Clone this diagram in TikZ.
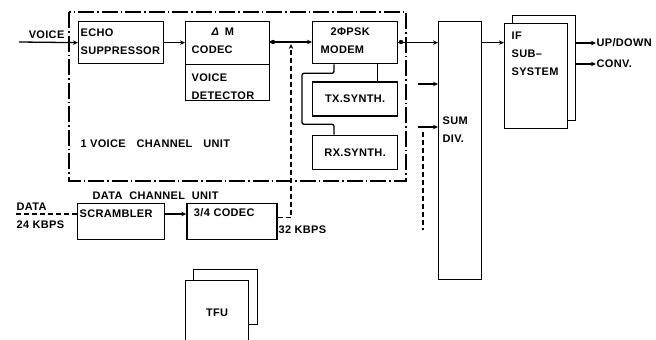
\documentclass[tikz,border=0pt]{standalone}
\usepackage{fontspec}
\setmainfont{Liberation Sans}[LetterSpace=3]
\usetikzlibrary{arrows.meta, positioning}
\newcommand\diagfont{\fontsize{11}{18}\selectfont\bfseries}

\begin{document}
\begin{tikzpicture}[
  x=1pt, y=-1pt, line width=1.3pt,
  box/.style={draw, anchor=north west, inner ysep=0pt, align=left,
    font=\diagfont},
  shadowbox/.style={draw, fill=white, anchor=north west, inner sep=0pt},
  txt/.style={font=\diagfont, inner sep=0pt},
  arrow/.style={-{Stealth[length=5pt, width=4.5pt]}},
  unitline/.style={line width=1.1pt, dash pattern=on 16pt off 3pt on 1.5pt off 3pt},
  dashline/.style={line width=1.1pt, dash pattern=on 5pt off 3pt},
]
\useasboundingbox (0,0) rectangle (656,340);

% 1 voice channel unit
\draw[unitline] (69,12) rectangle (406,181);
\node[box, text width=81pt, inner xsep=2pt, minimum height=42pt,
  text height=15pt, text depth=27pt] (echo) at (78,21) {ECHO\\SUPPRESSOR};
\node[box, text width=72pt, inner xsep=6pt, minimum height=43pt,
  text height=14pt, text depth=29pt]
  (codec) at (185,21) {\hspace*{20pt}\textit{Δ}\enspace M\\CODEC};
\node[box, below=-1.3pt of codec, text width=72pt, inner xsep=6pt,
  minimum height=36pt, text height=17pt, text depth=19pt]
  (vdet) {VOICE\\DETECTOR};
\node[box, text width=69pt, inner xsep=8pt, minimum height=42pt,
  text height=14pt, text depth=28pt]
  (modem) at (312,21) {\hspace*{10pt}2ΦPSK\\MODEM};
\node[box, below=17pt of modem, align=center, text width=81pt, inner xsep=2pt,
  minimum height=34pt] (txs) {TX.SYNTH.};
\node[box, below=18pt of txs, align=center, text width=81pt, inner xsep=2pt,
  minimum height=34pt] (rxs) {RX.SYNTH.};

% Summing / dividing and IF
\node[box, text width=35pt, inner xsep=4pt, text height=103pt, text depth=155pt]
  (sum) at (438,21) {SUM\\DIV.};
\node[shadowbox, minimum width=63pt, minimum height=105pt] (ifback) at (512,15) {};
\node[box, fill=white, text width=49pt, inner xsep=7pt, text height=16pt,
  text depth=89pt] (ifsub) at (504,23) {IF\\SUB--\\SYSTEM};

% Data channel unit
\node[box, text width=83pt, inner xsep=2pt, text height=14pt, text depth=22pt]
  (scr) at (77,203) {SCRAMBLER};
\node[box, right=21pt of scr, text width=76pt, inner xsep=7pt, text height=13pt,
  text depth=23pt] (c34) {3/4 CODEC};

% TFU
\node[shadowbox, minimum width=64pt, minimum height=55pt] (tfuback) at (193,269) {};
\node[box, fill=white, align=center, text width=59pt, inner xsep=2pt,
  minimum height=65pt] (tfu) at (185,280) {TFU};

% Labels
\node[txt, anchor=base east] (voicelbl) at (65,38) {VOICE};
\node[txt, anchor=base west] (vculbl) at (80,147) {1 VOICE\quad CHANNEL\quad UNIT};
\node[txt, anchor=base west] (dculbl) at (92,199) {DATA\ \ CHANNEL\ \ UNIT};
\node[txt, anchor=base west] (datalbl) at (16,210) {DATA};
\node[txt, anchor=base west] (rate24) at (16,228) {24 KBPS};
\node[txt, anchor=base west] (rate32) at (278,233) {32 KBPS};
\node[txt, anchor=west] (updown) at (596,43) {UP/DOWN};
\node[txt, anchor=west] (conv) at (596,64) {CONV.};

% Voice path
\coordinate (voicein) at (19,42);
\coordinate (tap) at (273,42);
\coordinate (join) at (291,44);
\coordinate (tap2) at (401,42);
\draw[arrow] (voicein) -- (echo.west);
\draw[arrow] (echo.east) -- (echo.east -| codec.west);
\draw[arrow] (codec.east |- tap) -- (tap -| modem.west);
\fill (tap) circle (2.2pt);
\draw[dashline, arrow] ([yshift=4pt]c34.east) -| (join);

\draw ([xshift=-21pt]modem.south east) -- ([xshift=-21pt]txs.north east);
\draw[rounded corners=2pt] ([xshift=22pt]modem.south west) -- ++(0,9)
  -- ++(-32,0) -- ++(0,51) -- ++(32,0) -- ([xshift=22pt]rxs.north west);

\draw[arrow] (modem.east) -- (modem.east -| sum.west);
\fill (tap2) circle (2.2pt);
\draw[arrow] (modem.east -| sum.east) -- (modem.east -| ifsub.west);
\draw[arrow] (updown.west -| ifback.east) -- (updown.west);
\draw[arrow] (conv.west -| ifback.east) -- (conv.west);

% Spare inputs to SUM DIV.
\coordinate (sumin1) at (418,84);
\coordinate (sumin2) at (418,127);
\coordinate (spare) at (423,132);
\coordinate (spareend) at (423,230);
\draw[arrow] (sumin1) -- (sumin1 -| sum.west);
\draw[arrow] (sumin2) -- (sumin2 -| sum.west);
\draw[dashline] (spare) -- (spareend);

% Data path
\coordinate (datain) at (16,214);
\draw[dashline] (datain) -- (datain -| scr.west);
\draw[arrow] (scr.east |- datain) -- (c34.west |- datain);

\end{tikzpicture}
\end{document}
